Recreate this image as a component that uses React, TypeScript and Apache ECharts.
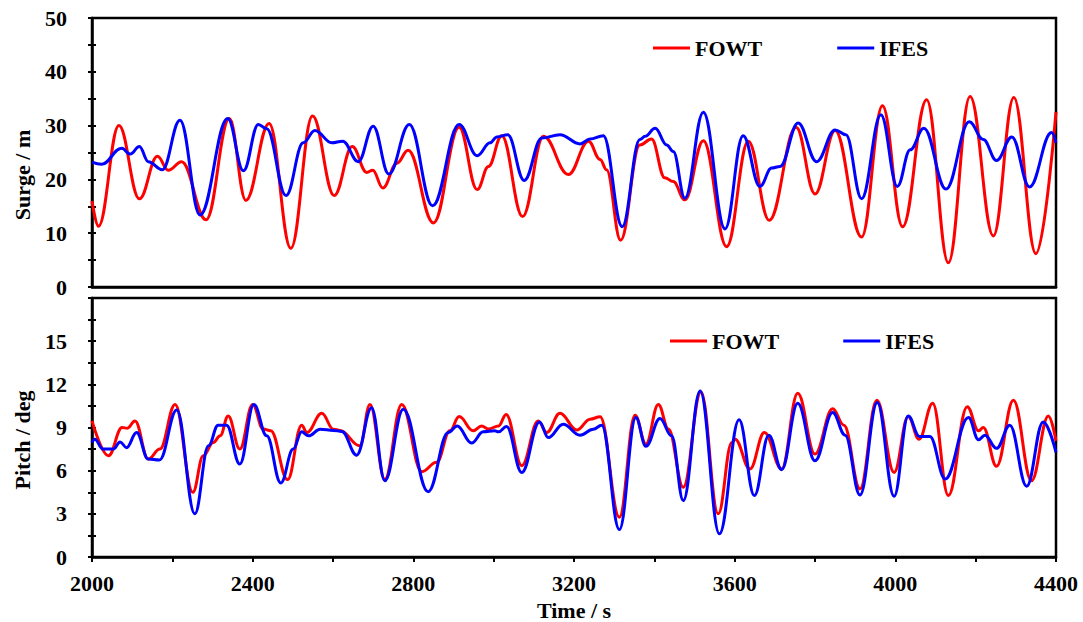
import React, { useEffect, useRef } from "react";
import * as echarts from "echarts";

// ---- Data ----
const surgeFowtTime = [2000, 2016, 2067, 2118, 2163, 2190, 2223, 2284, 2342, 2383, 2441, 2495, 2549, 2603, 2648, 2684, 2699, 2724, 2759, 2787, 2850, 2914, 2959, 2987, 3020, 3072, 3124, 3186, 3236, 3265, 3281, 3316, 3364, 3393, 3426, 3447, 3476, 3522, 3580, 3634, 3686, 3753, 3800, 3850, 3916, 3968, 4018, 4078, 4132, 4186, 4244, 4295, 4350, 4400];
const surgeFowtValue = [16.0, 11.3, 30.0, 16.4, 24.3, 21.7, 23.3, 12.5, 31.3, 16.1, 30.4, 7.2, 31.8, 17.0, 26.1, 21.3, 21.7, 18.4, 23.0, 25.4, 11.9, 29.7, 18.1, 22.4, 28.1, 13.1, 28.0, 20.9, 27.1, 23.7, 21.8, 8.7, 26.4, 27.5, 20.3, 19.6, 16.2, 27.2, 7.5, 27.1, 12.4, 29.7, 17.3, 29.1, 9.3, 33.7, 11.2, 34.8, 4.5, 35.4, 9.5, 35.2, 6.2, 32.5];

const surgeIfesTime = [2000, 2024, 2074, 2095, 2118, 2140, 2175, 2219, 2269, 2338, 2377, 2414, 2435, 2483, 2526, 2555, 2597, 2624, 2663, 2700, 2739, 2790, 2848, 2914, 2959, 2991, 3008, 3035, 3076, 3120, 3165, 3215, 3240, 3273, 3320, 3364, 3377, 3402, 3431, 3447, 3476, 3522, 3576, 3621, 3663, 3692, 3713, 3758, 3804, 3850, 3877, 3916, 3964, 4005, 4037, 4071, 4126, 4184, 4219, 4252, 4290, 4334, 4389, 4400];
const surgeIfesValue = [23.2, 22.8, 25.8, 24.7, 26.1, 23.3, 21.8, 31.0, 13.4, 31.3, 21.6, 30.2, 29.4, 17.0, 26.8, 29.1, 26.8, 27.1, 23.3, 29.9, 21.0, 30.2, 15.1, 30.2, 24.4, 26.8, 27.9, 28.3, 19.8, 27.7, 28.3, 26.6, 27.5, 28.1, 11.2, 27.4, 28.0, 29.5, 26.4, 25.2, 16.5, 32.5, 10.8, 28.1, 18.7, 22.1, 22.4, 30.5, 23.3, 29.2, 28.3, 16.4, 32.0, 18.7, 25.5, 29.5, 18.2, 30.7, 27.4, 23.5, 27.9, 18.6, 28.7, 26.8];

const pitchFowtTime = [2000, 2041, 2075, 2088, 2107, 2140, 2169, 2207, 2251, 2277, 2302, 2319, 2339, 2368, 2400, 2426, 2445, 2487, 2522, 2535, 2572, 2601, 2617, 2667, 2692, 2729, 2771, 2821, 2858, 2891, 2914, 2949, 2970, 2987, 3012, 3031, 3070, 3111, 3132, 3165, 3207, 3240, 3265, 3313, 3352, 3379, 3410, 3435, 3472, 3516, 3559, 3593, 3601, 3638, 3674, 3717, 3757, 3800, 3844, 3872, 3912, 3954, 3997, 4032, 4059, 4093, 4132, 4179, 4207, 4219, 4252, 4294, 4339, 4381, 4400];
const pitchFowtValue = [9.46, 7.04, 9.0, 8.95, 9.46, 6.81, 7.5, 10.6, 4.5, 7.04, 7.96, 8.42, 9.8, 7.5, 10.6, 8.9, 8.77, 5.38, 9.16, 8.65, 9.99, 8.88, 8.8, 7.73, 10.6, 5.4, 10.6, 5.93, 6.58, 8.77, 9.76, 8.77, 9.1, 8.9, 9.1, 9.9, 6.35, 9.46, 8.65, 9.99, 8.83, 9.58, 9.74, 2.77, 9.85, 7.85, 10.6, 8.9, 4.85, 11.47, 3.0, 7.96, 8.19, 6.12, 8.65, 6.12, 11.38, 7.15, 10.3, 9.16, 4.73, 10.9, 5.88, 9.76, 8.19, 10.68, 4.27, 10.45, 8.77, 9.0, 6.3, 10.89, 5.3, 9.8, 8.07];

const pitchIfesTime = [2000, 2007, 2027, 2053, 2070, 2086, 2111, 2140, 2168, 2211, 2256, 2290, 2314, 2335, 2368, 2403, 2435, 2470, 2501, 2522, 2539, 2568, 2601, 2622, 2659, 2696, 2729, 2775, 2837, 2887, 2909, 2945, 2974, 3003, 3012, 3032, 3070, 3114, 3136, 3173, 3215, 3248, 3269, 3313, 3354, 3379, 3414, 3443, 3472, 3514, 3562, 3611, 3649, 3685, 3717, 3757, 3800, 3844, 3875, 3912, 3955, 3997, 4032, 4060, 4086, 4124, 4182, 4207, 4223, 4252, 4285, 4327, 4368, 4400];
const pitchIfesValue = [7.96, 8.19, 7.5, 7.5, 8.0, 7.6, 8.65, 6.81, 6.74, 10.22, 3.0, 7.73, 9.16, 9.16, 6.46, 10.6, 8.42, 5.15, 7.5, 8.7, 8.42, 8.88, 8.8, 8.73, 7.08, 10.38, 5.3, 10.27, 4.54, 8.65, 9.1, 7.92, 8.7, 8.77, 8.7, 9.07, 5.88, 9.39, 8.3, 9.23, 8.47, 8.88, 9.16, 1.91, 9.69, 7.69, 9.62, 8.42, 3.92, 11.54, 1.61, 9.53, 4.27, 8.47, 6.07, 10.68, 6.69, 10.04, 8.47, 4.31, 10.73, 4.22, 9.8, 8.38, 8.38, 5.42, 9.69, 8.15, 8.47, 7.55, 9.16, 4.92, 9.39, 7.27];

const seriesNames = ["FOWT", "IFES"];
const seriesColors = ["#ff0000", "#0000ff"];
const timeRange = [2000, 4400];
const timeStep = 400;
const surgeRange = [0, 50];
const surgeStep = 10;
const pitchRange = [0, 18];
const pitchStep = 3;
const axisTitles = { surge: "Surge / m", pitch: "Pitch / deg", time: "Time / s" };

const zip = (t: number[], v: number[]) => t.map((x, i) => [x, v[i]]);

const FONT = '"Liberation Serif", "Times New Roman", serif';
const FS = 22;
const txt = { fontFamily: FONT, fontWeight: "bold" as const, fontSize: FS, color: "#000" };
const black = "#000";

function buildOption() {
  const G0 = { left: 92, top: 18, width: 964, height: 269 };
  const G1 = { left: 92, top: 298, width: 964, height: 260 };
  const tickStyle = { color: black, width: 2 };

  const xBase = (gi: number) => ({
    gridIndex: gi,
    type: "value" as const,
    min: timeRange[0],
    max: timeRange[1],
    interval: timeStep,
    splitLine: { show: false },
  });
  const yBase = (gi: number, range: number[], step: number) => ({
    gridIndex: gi,
    type: "value" as const,
    min: range[0],
    max: range[1],
    interval: step,
    splitLine: { show: false },
    position: "left" as const,
  });

  const line = (
    name: string,
    color: string,
    data: number[][],
    xi: number,
    yi: number
  ) => ({
    name,
    type: "line" as const,
    xAxisIndex: xi,
    yAxisIndex: yi,
    data,
    smooth: 0.4,
    smoothMonotone: "x" as const,
    symbol: "none",
    lineStyle: { color, width: 3 },
    itemStyle: { color },
    emphasis: { disabled: true },
  });

  const legendBase = {
    icon: "rect",
    itemWidth: 37,
    itemHeight: 3,
    padding: 0,
    data: seriesNames,
    textStyle: { ...txt },
    selectedMode: false,
  };

  const yTitle = (text: string, y: number) => ({
    type: "text",
    x: 22,
    y,
    rotation: Math.PI / 2,
    style: {
      text,
      fill: black,
      fontFamily: FONT,
      fontWeight: "bold",
      fontSize: FS,
      align: "center",
      verticalAlign: "middle",
    },
  });

  return {
    animation: false,
    backgroundColor: "#fff",
    grid: [
      { ...G0, show: true, borderColor: black, borderWidth: 2.5, backgroundColor: "transparent" },
      { ...G1, show: true, borderColor: black, borderWidth: 2.5, backgroundColor: "transparent" },
    ],
    xAxis: [
      {
        ...xBase(0),
        axisLine: { show: true, lineStyle: { color: black, width: 2.5 } },
        axisTick: { show: false },
        axisLabel: { show: false },
      },
      {
        ...xBase(1),
        axisLine: { show: true, lineStyle: { color: black, width: 2.5 } },
        axisTick: { show: true, length: 5, lineStyle: tickStyle },
        minorTick: { show: true, splitNumber: 2, length: 5, lineStyle: tickStyle },
        axisLabel: { ...txt, margin: 15, formatter: (v: number) => String(v) },
        name: axisTitles.time,
        nameLocation: "middle",
        nameGap: 42,
        nameTextStyle: { ...txt },
      },
      {
        ...xBase(1),
        axisLine: { show: false },
        axisTick: { show: true, inside: true, length: 4, lineStyle: tickStyle },
        minorTick: { show: true, splitNumber: 2, length: 4, lineStyle: tickStyle },
        axisLabel: { show: false },
      },
    ],
    yAxis: [
      {
        ...yBase(0, surgeRange, surgeStep),
        axisLine: { show: true, lineStyle: { color: black, width: 2.5 } },
        axisTick: { show: true, length: 4, lineStyle: tickStyle },
        minorTick: { show: true, splitNumber: 2, length: 4, lineStyle: tickStyle },
        axisLabel: { ...txt, margin: 25, formatter: (v: number) => String(v) },
      },
      {
        ...yBase(0, surgeRange, surgeStep),
        axisLine: { show: false },
        axisTick: { show: true, inside: true, length: 4, lineStyle: tickStyle },
        minorTick: { show: true, splitNumber: 2, length: 4, lineStyle: tickStyle },
        axisLabel: { show: false },
      },
      {
        ...yBase(1, pitchRange, pitchStep),
        axisLine: { show: true, lineStyle: { color: black, width: 2.5 } },
        axisTick: { show: true, length: 4, lineStyle: tickStyle },
        minorTick: { show: true, splitNumber: 2, length: 4, lineStyle: tickStyle },
        axisLabel: {
          ...txt,
          margin: 25,
          formatter: (v: number) => (v >= pitchRange[1] ? "" : String(v)),
        },
      },
      {
        ...yBase(1, pitchRange, pitchStep),
        axisLine: { show: false },
        axisTick: { show: true, inside: true, length: 4, lineStyle: tickStyle },
        minorTick: { show: true, splitNumber: 2, length: 4, lineStyle: tickStyle },
        axisLabel: { show: false },
      },
    ],
    legend: [
      { ...legendBase, left: 653, top: 37, itemGap: 75 },
      { ...legendBase, left: 670, top: 330, itemGap: 64 },
    ],
    graphic: [yTitle(axisTitles.surge, 175), yTitle(axisTitles.pitch, 440)],
    series: [
      line(seriesNames[0], seriesColors[0], zip(surgeFowtTime, surgeFowtValue), 0, 0),
      line(seriesNames[1], seriesColors[1], zip(surgeIfesTime, surgeIfesValue), 0, 0),
      line(seriesNames[0], seriesColors[0], zip(pitchFowtTime, pitchFowtValue), 1, 2),
      line(seriesNames[1], seriesColors[1], zip(pitchIfesTime, pitchIfesValue), 1, 2),
    ],
  };
}

export default function App() {
  const ref = useRef<HTMLDivElement>(null);
  useEffect(() => {
    if (!ref.current) return;
    const chart = echarts.init(ref.current, null, { renderer: "svg" });
    chart.setOption(buildOption() as any);
    return () => chart.dispose();
  }, []);
  return (
    <div
      ref={ref}
      style={{ position: "absolute", left: 0, top: 0, width: 1083, height: 622, background: "#fff" }}
    />
  );
}
